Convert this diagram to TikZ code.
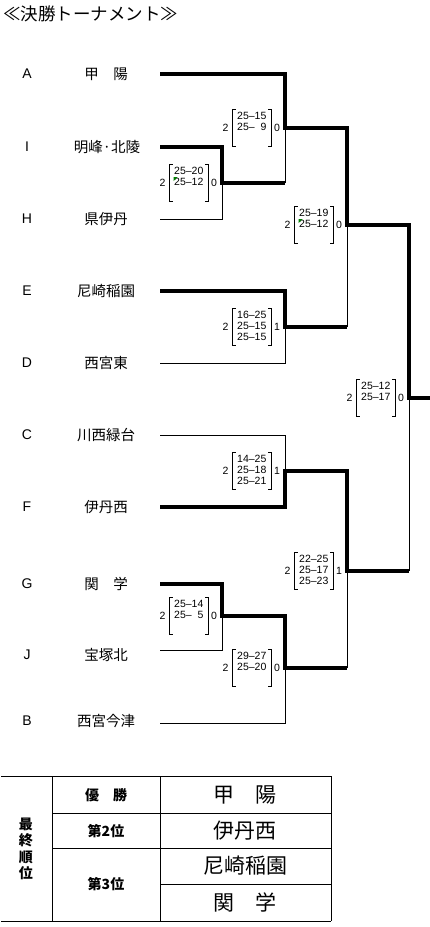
\documentclass[tikz,border=0pt]{standalone}
\usepackage{fontspec}
\setmainfont{Liberation Sans}
\newfontfamily\jp{Noto Sans CJK JP}
\usepackage{xcolor}
\definecolor{errgreen}{RGB}{0,128,0}

\tikzset{
  win/.style={line width=3.6pt, line join=miter},
  lose/.style={line width=1pt},
  grid/.style={line width=1pt},
  brk/.style={line width=0.9pt},
  letter/.style={font=\fontsize{14}{14}\selectfont},
  team/.style={font=\jp\fontsize{14.5}{15}\selectfont},
  scores/.style={inner sep=0pt, minimum width=38pt, minimum height=36pt,
    font=\fontsize{10.5}{11}\selectfont},
  wins/.style={inner sep=0pt, font=\fontsize{10.5}{11}\selectfont},
  errmark/.style={fill=errgreen}
}

% blank third row of a score box
\newcommand{\blankset}{\multicolumn{2}{c}{}}
% score box: name, match point, left wins, rows, right wins
\newcommand{\score}[5]{%
  \node[scores, anchor=east] (#1) at ([xshift=-14pt]#2)
    {\begin{tabular}{@{}r@{\textendash}r@{}}#4\end{tabular}};
  \draw[brk] ([xshift=3pt]#1.north west) -- (#1.north west) -- (#1.south west) -- ++(3pt,0);
  \draw[brk] ([xshift=-3pt]#1.north east) -- (#1.north east) -- (#1.south east) -- ++(-3pt,0);
  \node[wins, anchor=east] (#1l) at ([xshift=-4pt]#1.west) {#3};
  \node[wins, anchor=west] (#1r) at ([xshift=3pt]#1.east) {#5};
}

\begin{document}
\begin{tikzpicture}[x=1pt, y=-1pt]
  \useasboundingbox (0,0) rectangle (430,927);

  % title
  \node[anchor=west, inner sep=0pt, font=\jp\fontsize{17.5}{18}\selectfont] (title) at (3,14) {≪決勝トーナメント≫};

  % teams
  \node[letter] (kA) at (27,74) {A};   \node[team] (tA) at (106,74) {甲　陽};
  \node[letter] (kI) at (27,147) {I};  \node[team] (tI) at (107,147) {明峰·北陵};
  \node[letter] (kH) at (27,219) {H};  \node[team] (tH) at (106,219) {県伊丹};
  \node[letter] (kE) at (27,291) {E};  \node[team] (tE) at (106,291) {尼崎稲園};
  \node[letter] (kD) at (27,363) {D};  \node[team] (tD) at (106,363) {西宮東};
  \node[letter] (kC) at (27,435) {C};  \node[team] (tC) at (106,435) {川西緑台};
  \node[letter] (kF) at (27,507) {F};  \node[team] (tF) at (106,507) {伊丹西};
  \node[letter] (kG) at (27,584) {G};  \node[team] (tG) at (106,584) {関　学};
  \node[letter] (kJ) at (27,655) {J};  \node[team] (tJ) at (106,655) {宝塚北};
  \node[letter] (kB) at (27,721) {B};  \node[team] (tB) at (106,721) {西宮今津};

  % line starts
  \coordinate (lA) at (160,74);
  \coordinate (lI) at (160,147);
  \coordinate (lH) at (160,219);
  \coordinate (lE) at (160,291);
  \coordinate (lD) at (160,363);
  \coordinate (lC) at (160,435);
  \coordinate (lF) at (160,507);
  \coordinate (lG) at (160,584);
  \coordinate (lJ) at (160,650);
  \coordinate (lB) at (160,723);

  % match points
  \coordinate (m1) at (222,183);
  \coordinate (m2) at (285,128);
  \coordinate (m3) at (285,327);
  \coordinate (m4) at (347,225);
  \coordinate (m5) at (285,471);
  \coordinate (m6) at (222,616);
  \coordinate (m7) at (285,668);
  \coordinate (m8) at (347,571);
  \coordinate (m9) at (409,398);
  \coordinate (fin) at (430,398);

  % losers
  \draw[lose] (lH) -| (m1);
  \draw[lose] (m1 -| m2) -- (m2);
  \draw[lose] (lD) -| (m3);
  \draw[lose] (m3 -| m4) -- (m4);
  \draw[lose] (lC) -| (m5);
  \draw[lose] (lJ) -| (m6);
  \draw[lose] (lB) -| (m7);
  \draw[lose] (m7 -| m8) -- (m8);
  \draw[lose] (m8 -| m9) -- (m9);

  % winners
  \draw[win] (lA) -| (m2) -| (m4) -| (m9) -- (fin);
  \draw[win] (lI) -| (m1) -- (m1 -| m2);
  \draw[win] (lE) -| (m3) -- (m3 -| m4);
  \draw[win] (lF) -| (m5) -| (m8) -- (m8 -| m9);
  \draw[win] (lG) -| (m6) -| (m7) -- (m7 -| m8);

  % scores
  \score{s1}{m1}{2}{25&20\\25&12\\\blankset}{0}
  \score{s2}{m2}{2}{25&15\\25&9\\\blankset}{0}
  \score{s3}{m3}{2}{16&25\\25&15\\25&15}{1}
  \score{s4}{m4}{2}{25&19\\25&12\\\blankset}{0}
  \score{s5}{m5}{2}{14&25\\25&18\\25&21}{1}
  \score{s6}{m6}{2}{25&14\\25&5\\\blankset}{0}
  \score{s7}{m7}{2}{29&27\\25&20\\\blankset}{0}
  \score{s8}{m8}{2}{22&25\\25&17\\25&23}{1}
  \score{s9}{m9}{2}{25&12\\25&17\\\blankset}{0}
  \fill[errmark] ([shift={(4,-6)}]s1.west) -- ++(4,0) -- ++(-4,4) -- cycle;
  \fill[errmark] ([shift={(4,-6)}]s4.west) -- ++(4,0) -- ++(-4,4) -- cycle;

  % final ranking
  \draw[grid] (1,776) -- (331,776);
  \draw[grid] (1,921) -- (331,921);
  \draw[grid] (52,776) -- (52,921);
  \draw[grid] (160,776) -- (160,921);
  \draw[grid] (331,776) -- (331,921);
  \draw[grid] (52,813) -- (331,813);
  \draw[grid] (52,848) -- (331,848);
  \draw[grid] (160,884) -- (331,884);

  \node[align=center, font=\jp\bfseries\fontsize{14}{16.5}\selectfont] (rank) at (26,849) {最\\終\\順\\位};
  \node[font=\jp\bfseries\fontsize{14}{14}\selectfont] (p1) at (106,795) {優　勝};
  \node[font=\jp\bfseries\fontsize{14}{14}\selectfont] (p2) at (106,831) {第2位};
  \node[font=\jp\bfseries\fontsize{14}{14}\selectfont] (p3) at (106,884) {第3位};
  \node[font=\jp\fontsize{21}{21}\selectfont] (w1) at (245,795) {甲　陽};
  \node[font=\jp\fontsize{21}{21}\selectfont] (w2) at (245,831) {伊丹西};
  \node[font=\jp\fontsize{21}{21}\selectfont] (w3) at (245,866) {尼崎稲園};
  \node[font=\jp\fontsize{21}{21}\selectfont] (w4) at (245,902) {関　学};
\end{tikzpicture}
\end{document}
